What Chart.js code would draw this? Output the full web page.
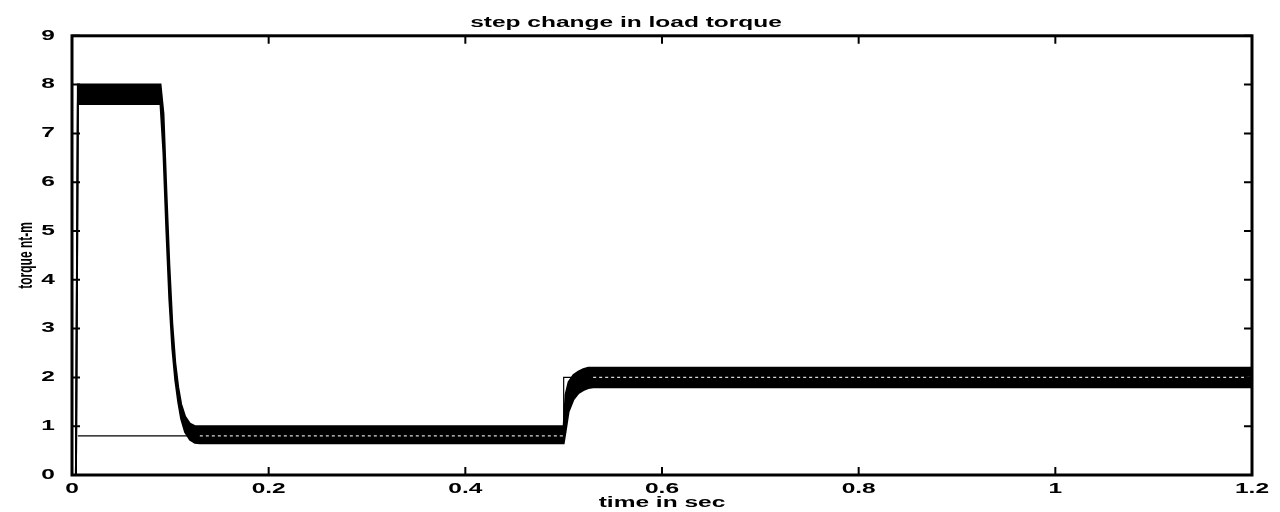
<!DOCTYPE html>
<html>
<head>
<meta charset="utf-8">
<script src="https://cdn.jsdelivr.net/npm/chart.js@4.4.1/dist/chart.umd.min.js"></script>
<style>
  html, body { margin: 0; padding: 0; background: #fff; }
  #wrap { width: 1280px; height: 512px; }
</style>
</head>
<body>
<div id="wrap"><canvas id="torqueChart"></canvas></div>
<script>
// Torque response envelope (the ripple band is drawn as fill between upper and lower)
const times = [0, 0.004, 0.006, 0.02, 0.09, 0.093, 0.096, 0.099, 0.102, 0.105, 0.108, 0.111, 0.115, 0.12, 0.125, 0.13, 0.5, 0.502, 0.505, 0.51, 0.515, 0.52, 0.525, 0.53, 1.2];
const torqueUpper = [0, 0, 8, 8, 8, 7.4, 5.8, 4.3, 3.1, 2.3, 1.8, 1.45, 1.2, 1.05, 1.0, 1.0, 1.0, 1.65, 1.9, 2.05, 2.12, 2.17, 2.2, 2.2, 2.2];
const torqueLower = [0, 0, 7.6, 7.6, 7.6, 6.6, 5.0, 3.6, 2.6, 1.95, 1.5, 1.15, 0.88, 0.72, 0.66, 0.65, 0.65, 0.9, 1.3, 1.55, 1.68, 1.74, 1.78, 1.8, 1.8];

// Load torque reference (step at 0.5 s)
const loadTimes = [0.006, 0.13, 0.5, 0.5, 0.53, 1.2];
const loadValues = [0.8, 0.8, 0.8, 2, 2, 2];

const xTicks = [0, 0.2, 0.4, 0.6, 0.8, 1, 1.2];
const yTicks = [0, 1, 2, 3, 4, 5, 6, 7, 8, 9];

const FONT = '"Liberation Sans", Arial, sans-serif';
const STRETCH = 1.75; // the scanned figure is stretched sideways, so is its lettering

// segments of the load line that lie inside the ripple band show through as white dots
function insideBand(ctx) {
    const x0 = ctx.p0.parsed.x, x1 = ctx.p1.parsed.x;
    return (x0 >= 0.13 && x1 <= 0.5 && x1 > x0) || (x0 >= 0.53 && x1 > x0);
}

// widen every text draw around its anchor point
const stretchText = {
    id: 'stretchText',
    beforeInit(chart) {
        const ctx = chart.ctx;
        const orig = ctx.fillText;
        ctx.fillText = function (text, x, y) {
            const m = this.getTransform();
            this.save();
            this.translate(x, y);
            if (Math.abs(m.b) > 0.5) this.scale(1, STRETCH);
            else this.scale(STRETCH, 1);
            orig.call(this, text, 0, 0);
            this.restore();
        };
    }
};

// MATLAB style box with inward ticks
const boxPlugin = {
    id: 'boxPlugin',
    afterDraw(chart) {
        const { ctx, chartArea: a, scales } = chart;
        const len = 8;
        ctx.save();
        ctx.strokeStyle = '#000';
        ctx.lineWidth = 3;
        ctx.strokeRect(a.left, a.top, a.right - a.left, a.bottom - a.top);
        ctx.lineWidth = 2;
        ctx.beginPath();
        xTicks.forEach(v => {
            const px = scales.x.getPixelForValue(v);
            ctx.moveTo(px, a.bottom); ctx.lineTo(px, a.bottom - len);
            ctx.moveTo(px, a.top); ctx.lineTo(px, a.top + len);
        });
        yTicks.forEach(v => {
            const py = scales.y.getPixelForValue(v);
            ctx.moveTo(a.left, py); ctx.lineTo(a.left + len, py);
            ctx.moveTo(a.right, py); ctx.lineTo(a.right - len, py);
        });
        ctx.stroke();
        ctx.restore();
    }
};

new Chart(document.getElementById('torqueChart'), {
    type: 'line',
    data: {
        datasets: [
            {
                label: 'load torque',
                data: loadTimes.map((t, i) => ({ x: t, y: loadValues[i] })),
                borderColor: '#000',
                borderWidth: 1.2,
                pointRadius: 0,
                fill: false,
                order: 0,
                segment: {
                    borderColor: ctx => insideBand(ctx) ? 'rgba(255,255,255,0.85)' : '#000',
                    borderDash: ctx => insideBand(ctx) ? [3, 3] : undefined
                }
            },
            {
                label: 'torque upper',
                data: times.map((t, i) => ({ x: t, y: torqueUpper[i] })),
                borderColor: '#000',
                borderWidth: 2,
                pointRadius: 0,
                fill: false,
                order: 2
            },
            {
                label: 'torque lower',
                data: times.map((t, i) => ({ x: t, y: torqueLower[i] })),
                borderColor: '#000',
                backgroundColor: '#000',
                borderWidth: 2,
                pointRadius: 0,
                fill: '-1',
                order: 1
            }
        ]
    },
    options: {
        responsive: true,
        maintainAspectRatio: false,
        animation: false,
        layout: { padding: { left: 0, right: 28, top: 0, bottom: 0 } },
        plugins: {
            legend: { display: false },
            tooltip: { enabled: false },
            title: {
                display: true,
                text: 'step change in load torque',
                color: '#000',
                font: { family: FONT, size: 14, weight: 'bold' },
                padding: { top: 15, bottom: 4 }
            }
        },
        scales: {
            x: {
                type: 'linear',
                min: 0,
                max: 1.2,
                afterFit: scale => { scale.height = 37; },
                afterBuildTicks: scale => { scale.ticks = xTicks.map(v => ({ value: v })); },
                grid: { display: false },
                border: { display: false },
                ticks: {
                    color: '#000',
                    padding: -2.5,
                    maxRotation: 0,
                    autoSkip: false,
                    font: { family: FONT, size: 14, weight: 'bold' },
                    callback: v => String(v)
                },
                title: {
                    display: true,
                    text: 'time in sec',
                    color: '#000',
                    font: { family: FONT, size: 14, weight: 'bold' },
                    padding: { top: 0, bottom: 0 }
                }
            },
            y: {
                min: 0,
                max: 9,
                afterFit: scale => { scale.width = 72; },
                afterBuildTicks: scale => { scale.ticks = yTicks.map(v => ({ value: v })); },
                grid: { display: false },
                border: { display: false },
                ticks: {
                    color: '#000',
                    padding: 9,
                    font: { family: FONT, size: 14, weight: 'bold' }
                },
                title: {
                    display: true,
                    text: 'torque nt-m',
                    color: '#000',
                    font: { family: FONT, size: 12, weight: 'bold' },
                    padding: { top: 19, bottom: 0 }
                }
            }
        }
    },
    plugins: [stretchText, boxPlugin]
});
</script>
</body>
</html>
